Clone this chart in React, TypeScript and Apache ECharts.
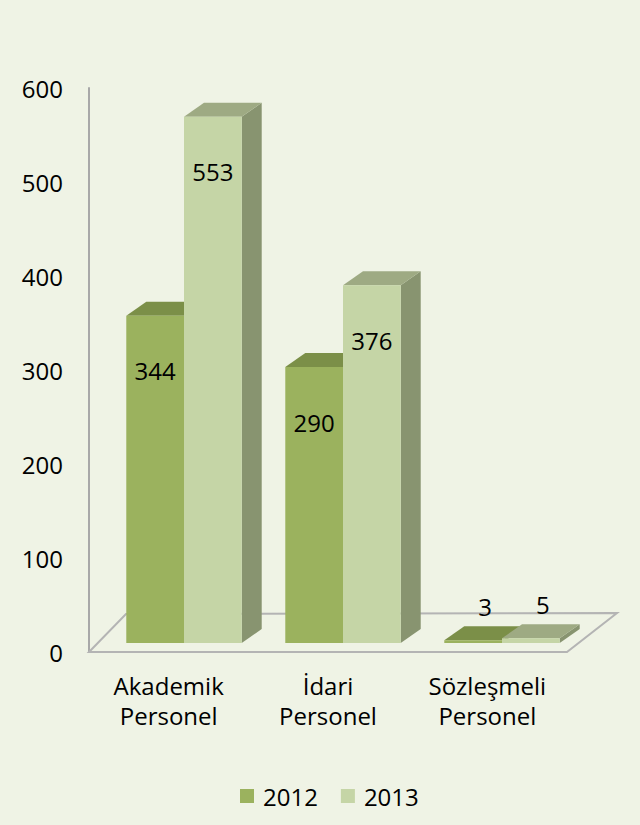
import React, { useEffect, useRef } from "react";
import * as echarts from "echarts";

const categories = ["Akademik\nPersonel", "İdari\nPersonel", "Sözleşmeli\nPersonel"];
const years = ["2012", "2013"];
const values2012 = [344, 290, 3];
const values2013 = [553, 376, 5];
const yMin = 0;
const yMax = 600;
const yInterval = 100;

const FRONT = ["#9BB25E", "#C5D5A6"];
const TOP = ["#7B8F48", "#9EAA83"];
const SIDE = ["#6E8040", "#889470"];
const FONT = "'Open Sans', 'Noto Sans', sans-serif";
const DX = 20;
const DY = -14;

function makeRenderItem(s: number) {
  return (params: any, api: any) => {
    const cat = api.value(0);
    const val = api.value(1);
    const base = api.coord([cat, 0]);
    const topPt = api.coord([cat, val]);
    const band = api.size([1, 0])[0];
    const w = band * 0.363;
    const left = base[0] - w + s * w;
    const right = left + w;
    const yb = base[1];
    const yt = topPt[1];
    const big = yb - yt > 40;
    return {
      type: "group",
      children: [
        {
          type: "polygon",
          shape: { points: [[right, yt], [right + DX, yt + DY], [right + DX, yb + DY], [right, yb]] },
          style: { fill: SIDE[s] },
        },
        {
          type: "polygon",
          shape: { points: [[left, yt], [right, yt], [right + DX, yt + DY], [left + DX, yt + DY]] },
          style: { fill: TOP[s] },
        },
        {
          type: "rect",
          shape: { x: left, y: yt, width: w, height: Math.max(yb - yt, 0.5) },
          style: { fill: FRONT[s] },
        },
        {
          type: "text",
          x: big ? (left + right) / 2 : (left + right) / 2 + 12,
          y: big ? yt + 55 : yt - 34,
          style: {
            text: String(val),
            fill: "#000",
            font: `24px ${FONT}`,
            align: "center",
            verticalAlign: "middle",
          },
          z2: 10,
        },
      ],
    };
  };
}

export default function App() {
  const ref = useRef<HTMLDivElement>(null);
  useEffect(() => {
    if (!ref.current) return;
    const chart = echarts.init(ref.current, null, { renderer: "svg" });
    const seriesValues = [values2012, values2013];
    chart.setOption({
      animation: false,
      backgroundColor: "#EFF3E5",
      grid: [
        { left: 89, right: 73, top: 88, bottom: 173 },
        { left: 104.5, right: 58.5, top: 72, bottom: 182 },
      ],
      xAxis: [
        {
          type: "category",
          gridIndex: 0,
          data: categories,
          axisLine: { show: false },
          axisTick: { show: false },
          axisLabel: {
            margin: 18,
            fontFamily: FONT,
            fontSize: 24,
            lineHeight: 30,
            color: "#000",
            interval: 0,
          },
        },
        {
          type: "category",
          gridIndex: 1,
          data: categories,
          show: false,
        },
      ],
      yAxis: [
        {
          type: "value",
          gridIndex: 0,
          min: yMin,
          max: yMax,
          interval: yInterval,
          axisLine: { show: true, lineStyle: { color: "#A8A8A8", width: 2 } },
          axisTick: { show: false },
          splitLine: { show: false },
          axisLabel: { margin: 26, fontFamily: FONT, fontSize: 24, color: "#000" },
        },
        {
          type: "value",
          gridIndex: 1,
          min: yMin,
          max: yMax,
          show: false,
          splitLine: { show: false },
        },
      ],
      graphic: [
        {
          type: "polygon",
          z: 1,
          shape: { points: [[89, 652], [126, 614], [617, 613], [567, 652]] },
          style: { fill: "none", stroke: "#B4B4B4", lineWidth: 2 },
        },
      ],
      legend: {
        data: years,
        left: 240,
        top: 784,
        padding: 0,
        icon: "rect",
        itemWidth: 14,
        itemHeight: 14,
        itemGap: 23,
        textStyle: { fontFamily: FONT, fontSize: 24, color: "#000", padding: [0, 0, 0, 4] },
      },
      series: years.map((y, s) => ({
        type: "custom",
        name: y,
        xAxisIndex: 1,
        yAxisIndex: 1,
        z: 2,
        itemStyle: { color: FRONT[s] },
        renderItem: makeRenderItem(s),
        encode: { x: 0, y: 1 },
        data: seriesValues[s].map((v, i) => [i, v]),
      })),
    });
    return () => chart.dispose();
  }, []);
  return (
    <div
      ref={ref}
      style={{ position: "absolute", left: 0, top: 0, width: 640, height: 825 }}
    />
  );
}
